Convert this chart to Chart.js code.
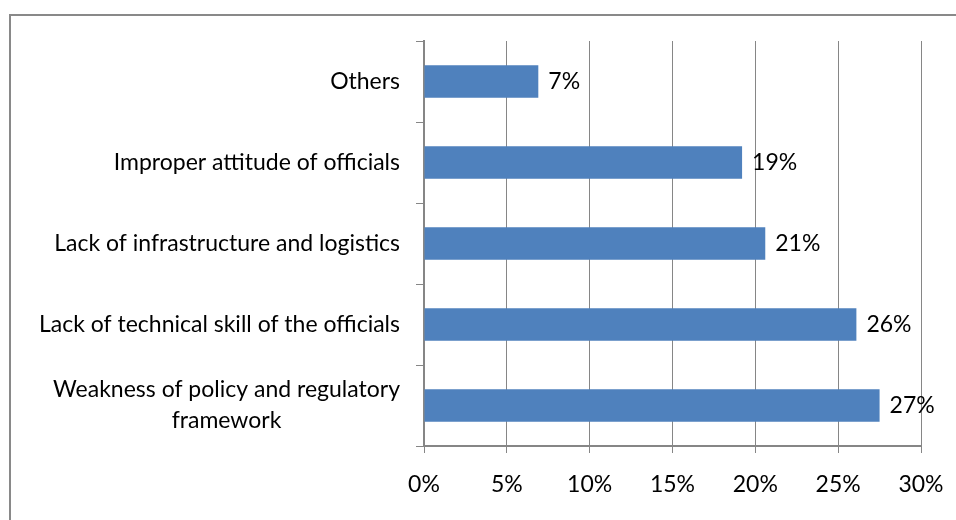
<!DOCTYPE html>
<html>
<head>
<meta charset="utf-8">
<script src="https://cdn.jsdelivr.net/npm/chart.js@4/dist/chart.umd.min.js"></script>
<style>
  body { margin: 0; background: #fff; }
  canvas { display: block; }
</style>
</head>
<body>
<canvas id="barChart" width="956" height="520"></canvas>
<script>
// datos del gráfico
const categories = [
  'Others',
  'Improper attitude of officials',
  'Lack of infrastructure and logistics',
  'Lack of technical skill of the officials',
  ['Weakness of policy and regulatory', 'framework']
];
const values = [6.9, 19.2, 20.6, 26.1, 27.5];
const valueLabels = ['7%', '19%', '21%', '26%', '27%'];
const xTicks = [0, 5, 10, 15, 20, 25, 30];

const FONT = 'Lato';
const axisColor = '#868686';

// borde exterior, etiquetas del eje y y etiquetas de datos
const extras = {
  id: 'extras',
  beforeDraw(chart) {
    const c = chart.ctx;
    c.save();
    c.strokeStyle = '#898989';
    c.lineWidth = 2;
    c.strokeRect(10, 15, 1000, 1000);
    c.restore();
  },
  afterDatasetsDraw(chart) {
    const c = chart.ctx;
    const meta = chart.getDatasetMeta(0);
    const ys = chart.scales.y;
    c.save();
    c.font = '23px ' + FONT;
    c.fillStyle = '#000';
    c.textBaseline = 'middle';

    c.textAlign = 'left';
    meta.data.forEach((bar, i) => {
      c.fillText(valueLabels[i], bar.x + 10, bar.y);
    });

    c.textAlign = 'center';
    const right = ys.right - 24;
    const lineH = 31;
    categories.forEach((cat, i) => {
      const lines = Array.isArray(cat) ? cat : [cat];
      const w = Math.max(...lines.map(l => c.measureText(l).width));
      const cx = right - w / 2;
      const cy = ys.getPixelForTick(i);
      lines.forEach((l, k) => {
        c.fillText(l, cx, cy + (k - (lines.length - 1) / 2) * lineH);
      });
    });
    c.restore();
  }
};

new Chart(document.getElementById('barChart'), {
  type: 'bar',
  data: {
    labels: categories,
    datasets: [{
      data: values,
      backgroundColor: '#4F81BD',
      borderWidth: 0,
      categoryPercentage: 1,
      barPercentage: 0.4
    }]
  },
  options: {
    indexAxis: 'y',
    responsive: false,
    animation: false,
    layout: { padding: { top: 41, right: 35, left: 0, bottom: 0 } },
    plugins: { legend: { display: false }, tooltip: { enabled: false } },
    scales: {
      x: {
        min: 0,
        max: 30,
        afterBuildTicks: s => { s.ticks = xTicks.map(v => ({ value: v })); },
        afterFit: s => {
          s.height = 74;
          s.paddingLeft = 0;
          s.paddingRight = 0;
        },
        ticks: {
          callback: v => v + '%',
          color: '#000',
          font: { family: FONT, size: 23 },
          padding: 18
        },
        grid: { color: axisColor, lineWidth: 1, tickLength: 7 },
        border: { color: axisColor, width: 2 }
      },
      y: {
        afterFit: s => { s.width = 424; },
        ticks: { display: false },
        grid: { drawOnChartArea: false, color: axisColor, tickLength: 8 },
        border: { color: axisColor, width: 2 }
      }
    }
  },
  plugins: [extras]
});
</script>
</body>
</html>
